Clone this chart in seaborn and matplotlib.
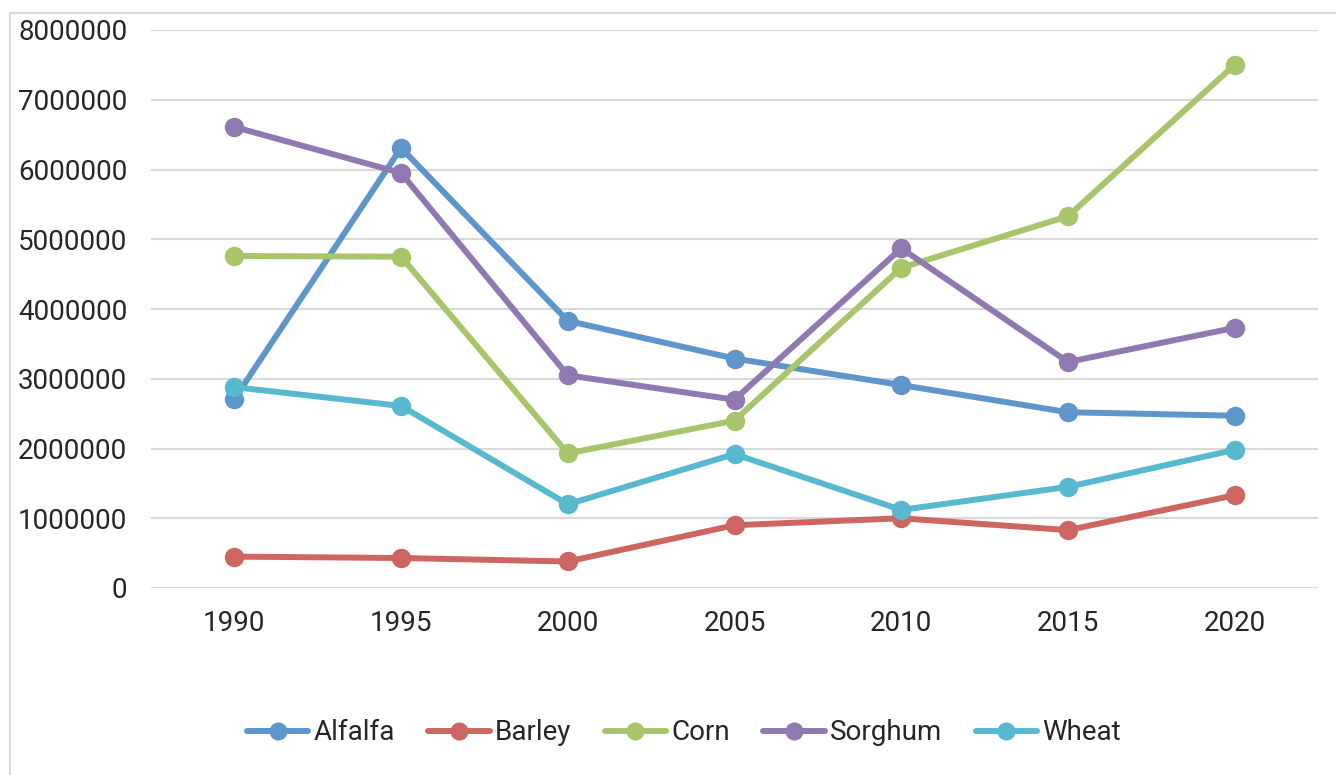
import pandas as pd
import seaborn as sns
import matplotlib.pyplot as plt
from matplotlib.patches import Rectangle

# --- dati ---
years = [1990, 1995, 2000, 2005, 2010, 2015, 2020]
alfalfa = [2710000, 6310000, 3830000, 3290000, 2910000, 2520000, 2470000]
barley = [450000, 430000, 380000, 900000, 1000000, 830000, 1330000]
corn = [4760000, 4750000, 1930000, 2400000, 4590000, 5330000, 7500000]
sorghum = [6610000, 5950000, 3050000, 2700000, 4870000, 3240000, 3730000]
wheat = [2880000, 2610000, 1200000, 1920000, 1120000, 1450000, 1980000]

crops = ["Alfalfa", "Barley", "Corn", "Sorghum", "Wheat"]
series = [alfalfa, barley, corn, sorghum, wheat]
colors = {
    "Alfalfa": "#5E95CB",
    "Barley": "#CD6660",
    "Corn": "#A9C56B",
    "Sorghum": "#9079B0",
    "Wheat": "#57B9D0",
}

rows = []
for crop, vals in zip(crops, series):
    for y, v in zip(years, vals):
        rows.append({"Year": y, "Value": v, "Crop": crop})
df = pd.DataFrame(rows)

sns.set_style("white")
plt.rcParams['font.family'] = ['Roboto', 'DejaVu Sans']
plt.rcParams['font.size'] = 20

fig = plt.figure(figsize=(13.36, 7.75), dpi=100)
ax = fig.add_axes([151 / 1336, 1 - 588 / 775, (1318 - 151) / 1336, (588 - 30) / 775])

# cornice esterna grigia
fig.patches.append(Rectangle((10 / 1336, -0.1), 1.2, 1 - 13 / 775 + 0.1,
                             transform=fig.transFigure, fill=False,
                             edgecolor="#D9D9D9", linewidth=1.5, zorder=0))

sns.lineplot(data=df, x="Year", y="Value", hue="Crop", hue_order=crops,
             palette=colors, marker="o", markersize=14, markeredgewidth=0,
             linewidth=4.3, ax=ax, legend=False)

ax.set_xlim(1987.5, 2022.5)
ax.set_ylim(0, 8000000)
ax.set_xticks(years)
ax.set_xticklabels([str(y) for y in years])
ax.set_yticks(range(0, 8000001, 1000000))
ax.set_yticklabels([str(v) for v in range(0, 8000001, 1000000)])
ax.set_xlabel("")
ax.set_ylabel("")
ax.yaxis.grid(True, color="#D9D9D9", linewidth=1.5)
ax.xaxis.grid(False)
for spine in ax.spines.values():
    spine.set_visible(False)
ax.tick_params(axis="y", length=0, pad=17, labelsize=20)
ax.tick_params(axis="x", length=0, pad=16, labelsize=20)

handles = [plt.Line2D([], [], color=colors[c], linewidth=4.3, marker="o",
                      markersize=13, markeredgewidth=0) for c in crops]
fig.legend(handles, crops, loc="center", bbox_to_anchor=(0.512, 1 - 733 / 775),
           ncol=5, frameon=False, fontsize=20, handlelength=2.2,
           handletextpad=0.2, columnspacing=1.2)

fig.savefig("out.png", dpi=100)
